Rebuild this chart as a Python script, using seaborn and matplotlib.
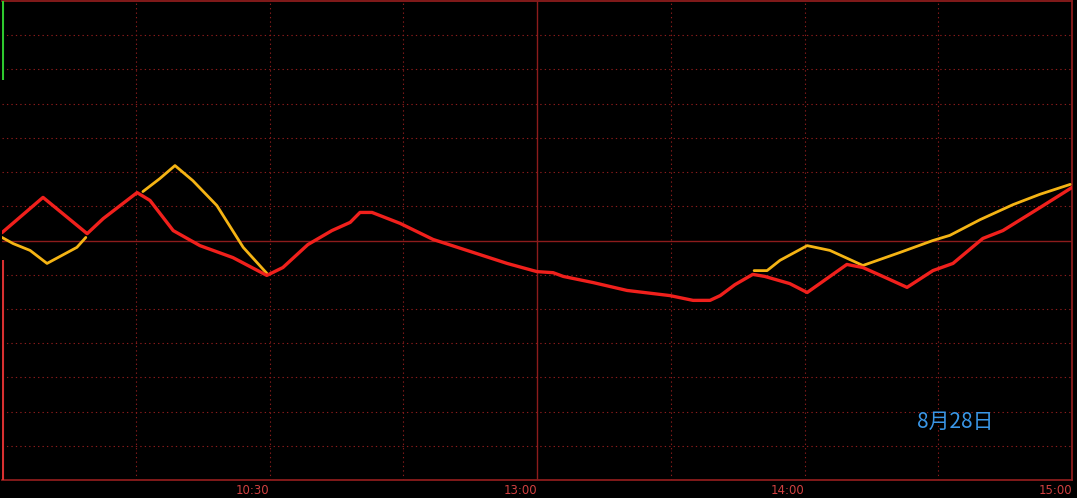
#!/usr/bin/env python3
"""Intraday time-share chart (8月28日) redrawn with seaborn."""

import pandas as pd
import matplotlib
matplotlib.use("Agg")
import matplotlib.pyplot as plt
import seaborn as sns

# minutes since 9:30 (trading minutes, 240 = 15:00) and % change vs previous close
price_t = [0, 9.2, 19.1, 22.7, 30.3, 33.2, 38.4, 44.4, 51.8, 59.4, 63.0, 68.6,
           74.0, 78.1, 80.3, 83.0, 89.3, 96.7, 104.3, 113.3, 120.0, 123.6, 125.9,
           132.6, 140.2, 149.8, 155.0, 158.8, 161.1, 164.4, 168.4, 171.1, 176.7,
           180.6, 185.7, 189.5, 193.1, 198.1, 203.0, 208.8, 213.3, 220.0, 224.5,
           232.8, 240]
price_v = [0.23, 1.26, 0.20, 0.64, 1.40, 1.17, 0.29, -0.15, -0.50, -1.02, -0.79,
           -0.12, 0.29, 0.53, 0.82, 0.82, 0.50, 0.03, -0.29, -0.67, -0.91, -0.94,
           -1.05, -1.23, -1.46, -1.61, -1.75, -1.75, -1.61, -1.29, -0.99, -1.05,
           -1.26, -1.52, -1.05, -0.70, -0.79, -1.08, -1.37, -0.88, -0.67, 0.06,
           0.29, 0.96, 1.55]

# average line, only drawn where it departs from the price line
avg_seg = [1] * 6 + [2] * 7 + [3] * 13
avg_t = [0, 2.5, 6.3, 10.1, 16.8, 18.8,
         31.6, 35.4, 38.8, 42.8, 48.2, 54.1, 59.4,
         168.7, 171.6, 174.5, 180.6, 185.7, 193.1, 201.4, 208.8, 212.6, 219.4,
         226.8, 232.8, 239.6]
avg_v = [0.09, -0.09, -0.29, -0.67, -0.20, 0.09,
         1.43, 1.81, 2.19, 1.75, 1.02, -0.20, -0.96,
         -0.88, -0.88, -0.58, -0.15, -0.29, -0.73, -0.35, 0.00, 0.15, 0.61,
         1.05, 1.35, 1.64]

tick_t = [60, 120, 180, 240]
tick_labels = ["10:30", "13:00", "14:00", "15:00"]
date_label = "8月28日"

# left-edge indicator bars (value ranges)
green_bar = (4.68, 7.0)
red_bar = (-7.0, -0.58)

GRID = "#8c1c1c"
price_df = pd.DataFrame({"t": price_t, "v": price_v})
avg_df = pd.DataFrame({"t": avg_t, "v": avg_v, "seg": avg_seg})

sns.set_style("dark", {"axes.facecolor": "black", "figure.facecolor": "black"})
plt.rcParams["font.family"] = ["Noto Sans CJK SC", "DejaVu Sans"]

fig = plt.figure(figsize=(10.77, 4.98), dpi=100, facecolor="black")
ax = fig.add_axes([2 / 1077, 18 / 498, 1070 / 1077, 479 / 498])
ax.set_facecolor("black")

# grid: dotted, with solid centre lines
for y in range(-6, 7):
    if y == 0:
        ax.axhline(y, color=GRID, lw=1.0, zorder=1)
    else:
        ax.axhline(y, color=GRID, lw=0.8, ls=(0, (1.2, 2.8)), zorder=1)
for x in range(30, 240, 30):
    if x == 120:
        ax.axvline(x, color=GRID, lw=1.0, zorder=1)
    else:
        ax.axvline(x, color=GRID, lw=0.8, ls=(0, (1.2, 2.8)), zorder=1)

sns.lineplot(data=avg_df, x="t", y="v", units="seg", estimator=None,
             color="#f5b414", lw=2.0, ax=ax, zorder=3)
sns.lineplot(data=price_df, x="t", y="v", color="#f0201c", lw=2.4,
             ax=ax, zorder=4)

ax.vlines(0.15, *green_bar, color="#2ec82e", lw=1.5, zorder=5)
ax.vlines(0.15, *red_bar, color="#d83030", lw=1.5, zorder=5)

ax.text(205.3, -5.3, date_label, color="#3a96e6", fontsize=15,
        ha="left", va="center")

ax.set_xlim(0, 240)
ax.set_ylim(-7, 7)
ax.set_yticks([])
ax.set_xticks(tick_t)
ax.set_xticklabels(tick_labels, ha="right", family="DejaVu Sans")
ax.tick_params(axis="x", length=0, pad=3, colors="#d04040", labelsize=8.5)
ax.set_xlabel("")
ax.set_ylabel("")
ax.grid(False)
for side in ["top", "bottom", "right"]:
    ax.spines[side].set_visible(True)
    ax.spines[side].set_color(GRID)
    ax.spines[side].set_linewidth(1.3)
ax.spines["left"].set_visible(False)

fig.savefig("out.png", dpi=100, facecolor="black")
